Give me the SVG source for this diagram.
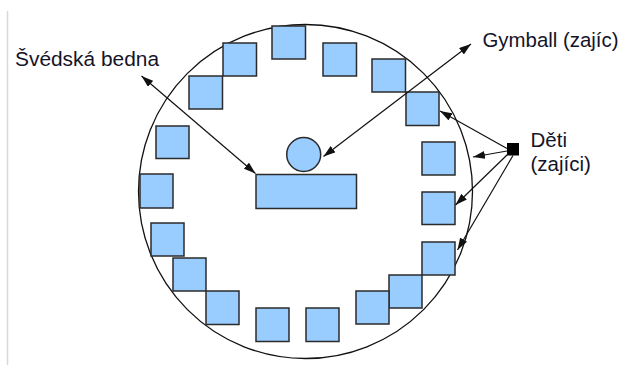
<svg xmlns="http://www.w3.org/2000/svg" width="625" height="377" viewBox="0 0 625 377">
  <style>
    .mat { fill: #99ccff; stroke: #2b2b2b; stroke-width: 1.5; }
    .ring { fill: none; stroke: #111; stroke-width: 1.3; }
    .conn { fill: none; stroke: #111; stroke-width: 1.2; }
    .lbl { font-family: "Liberation Sans", Arial, sans-serif; font-size: 20.5px; fill: #141428; }
  </style>
  <defs>
    <marker id="arrow" viewBox="0 0 12 8" refX="12" refY="4" markerWidth="12" markerHeight="8" markerUnits="userSpaceOnUse" orient="auto-start-reverse">
      <path d="M0,0 L12,4 L0,8 z" fill="#111"/>
    </marker>
  </defs>

  <rect width="625" height="377" fill="#fff"/>
  <!-- page edge -->
  <line x1="7.5" y1="11" x2="7.5" y2="365" stroke="#d9d9d9" stroke-width="1.5"/>

  <!-- play area -->
  <g id="arena">
    <circle class="ring" cx="305.5" cy="191.5" r="167"/>
  </g>

  <!-- mats around the ring -->
  <g id="mats">
    <rect class="mat" x="272" y="26" width="33.5" height="33"/>
    <rect class="mat" x="223" y="43" width="33.5" height="33"/>
    <rect class="mat" x="323" y="43" width="33.5" height="33"/>
    <rect class="mat" x="189" y="76" width="33.5" height="33"/>
    <rect class="mat" x="372" y="59" width="33.5" height="33"/>
    <rect class="mat" x="406" y="92" width="33" height="33.5"/>
    <rect class="mat" x="156" y="126" width="33" height="32.5"/>
    <rect class="mat" x="422" y="142" width="33" height="33"/>
    <rect class="mat" x="140" y="174" width="33" height="34"/>
    <rect class="mat" x="422" y="192" width="33" height="32.5"/>
    <rect class="mat" x="151" y="223" width="33" height="33"/>
    <rect class="mat" x="422" y="242" width="33" height="33"/>
    <rect class="mat" x="173" y="258" width="33" height="33"/>
    <rect class="mat" x="389" y="275" width="33" height="33"/>
    <rect class="mat" x="206" y="291" width="33" height="33.5"/>
    <rect class="mat" x="356" y="291" width="33" height="33"/>
    <rect class="mat" x="256" y="308" width="33" height="33.5"/>
    <rect class="mat" x="306" y="308" width="33" height="33.5"/>
  </g>

  <g id="bench">
    <rect class="mat" x="256" y="174.5" width="100.5" height="34"/>
  </g>
  <g id="ball">
    <circle class="mat" cx="303.7" cy="154.5" r="17"/>
  </g>
  <g id="kids">
    <rect x="507" y="143" width="12" height="12.5" fill="#000"/>
  </g>

  <!-- connectors -->
  <g id="connectors">
    <path class="conn" d="M141.5,76 L255.5,173.5" marker-start="url(#arrow)" marker-end="url(#arrow)"/>
    <path class="conn" d="M471,44 L323.5,156.5" marker-start="url(#arrow)" marker-end="url(#arrow)"/>
    <path class="conn" d="M507,148.5 L440,111" marker-end="url(#arrow)"/>
    <path class="conn" d="M507,151 L473,157" marker-end="url(#arrow)"/>
    <path class="conn" d="M508,154 L455.5,205" marker-end="url(#arrow)"/>
    <path class="conn" d="M513,155.5 L457.5,250" marker-end="url(#arrow)"/>
  </g>

  <!-- labels -->
  <g id="labels">
    <text class="lbl" x="15" y="65.5" textLength="144" lengthAdjust="spacingAndGlyphs">Švédská bedna</text>
    <text class="lbl" x="482.5" y="46.5" textLength="136" lengthAdjust="spacingAndGlyphs">Gymball (zajíc)</text>
    <text class="lbl" x="530.5" y="147">Děti</text>
    <text class="lbl" x="530.5" y="171">(zajíci)</text>
  </g>
</svg>
